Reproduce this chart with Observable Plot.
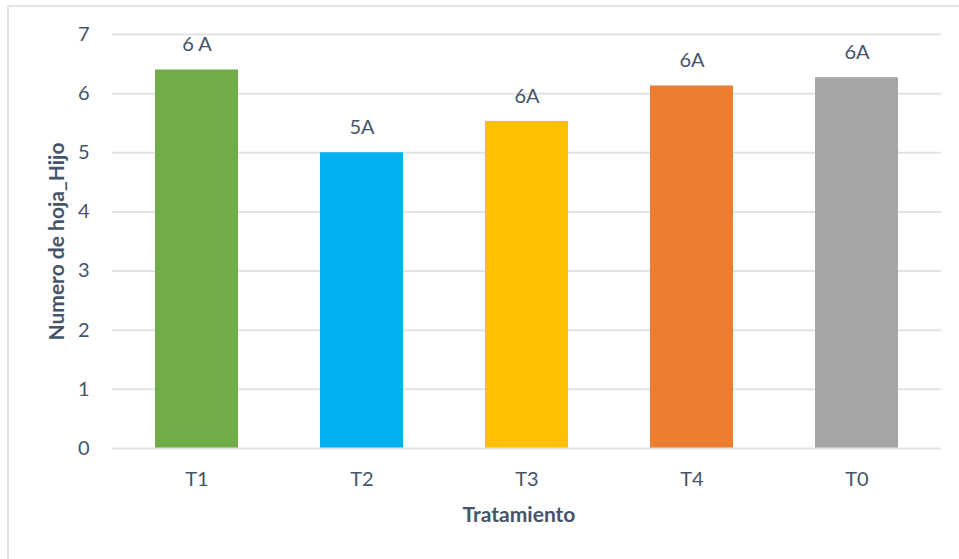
<!DOCTYPE html>
<html>
<head>
<meta charset="utf-8">
<script src="https://cdn.jsdelivr.net/npm/d3@7"></script>
<script src="https://cdn.jsdelivr.net/npm/@observablehq/plot@0.6"></script>
<style>
  html, body { margin: 0; padding: 0; background: #fff; }
  #wrap { position: relative; width: 959px; height: 559px; }
  #frame { position: absolute; left: 7px; top: 5px; right: -2px; bottom: -2px; border: 2px solid #dfe3e8; box-sizing: border-box; pointer-events: none; }
</style>
</head>
<body>
<div id="wrap"><div id="frame"></div></div>
<script>
const categories = ["T1", "T2", "T3", "T4", "T0"];
const values = [6.40, 5.00, 5.53, 6.13, 6.27];
const labels = ["6 A", "5A", "6A", "6A", "6A"];
const colors = ["#70ad47", "#00b0f0", "#ffc000", "#ed7d31", "#a5a5a5"];
const yTicks = [0, 1, 2, 3, 4, 5, 6, 7];
const xTitle = "Tratamiento";
const yTitle = "Numero de hoja_Hijo";

const data = categories.map((c, i) => ({ cat: c, value: values[i], label: labels[i], color: colors[i] }));
const textColor = "#44546a";
const font = "Lato, 'Open Sans', sans-serif";

const chart = Plot.plot({
  width: 959,
  height: 559,
  marginLeft: 112,
  marginRight: 18,
  marginTop: 34,
  marginBottom: 111,
  style: { fontFamily: font, fontSize: "20px", color: textColor, background: "transparent" },
  x: { domain: categories, paddingInner: 0.5, paddingOuter: 0.25, label: null },
  y: { domain: [0, 7], ticks: yTicks, label: null },
  marks: [
    Plot.gridY(yTicks.slice(1), { stroke: "#dfe3e8", strokeOpacity: 1, strokeWidth: 2 }),
    Plot.barY(data, { x: "cat", y: "value", fill: "color" }),
    Plot.ruleY([0], { stroke: "#dfe3e8", strokeWidth: 2 }),
    Plot.text(data, { x: "cat", y: "value", text: "label", dy: -25, fill: textColor, fontSize: 20 }),
    Plot.axisX({ tickSize: 0, tickPadding: 23, fontSize: 20, fill: textColor, label: null }),
    Plot.axisY({ ticks: yTicks, tickFormat: "d", tickSize: 0, tickPadding: 23, fontSize: 20, fill: textColor, label: null }),
    Plot.text([xTitle], { frameAnchor: "bottom", dy: 73, dx: -8, textAnchor: "middle", fontWeight: "bold", fontSize: 21, fill: textColor }),
    Plot.text([yTitle], { frameAnchor: "left", dx: -55, rotate: -90, textAnchor: "middle", fontWeight: "bold", fontSize: 21, fill: textColor })
  ]
});
document.getElementById("wrap").prepend(chart);
chart.style.position = "absolute";
chart.style.left = "0";
chart.style.top = "0";
</script>
</body>
</html>
